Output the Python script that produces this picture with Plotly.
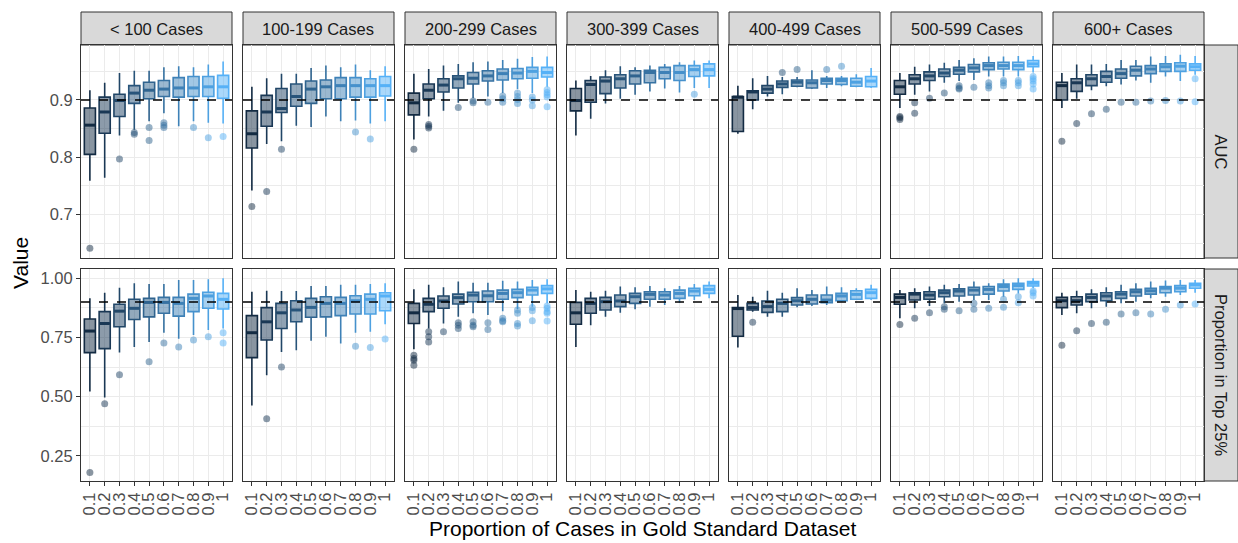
import plotly.graph_objects as go

# ---------------- data ----------------
PROPS = ["0.1", "0.2", "0.3", "0.4", "0.5", "0.6", "0.7", "0.8", "0.9", "1"]
PANELS = ["< 100 Cases", "100-199 Cases", "200-299 Cases", "300-399 Cases",
          "400-499 Cases", "500-599 Cases", "600+ Cases"]
METRICS = ["AUC", "Proportion in Top 25%"]

# AUC
AUC_LOWER = [
    [0.759, 0.764, 0.838, 0.848, 0.863, 0.877, 0.854, 0.863, 0.860, 0.859],
    [0.742, 0.823, 0.828, 0.855, 0.853, 0.871, 0.863, 0.864, 0.859, 0.863],
    [0.831, 0.871, 0.881, 0.895, 0.903, 0.906, 0.912, 0.919, 0.912, 0.923],
    [0.838, 0.867, 0.894, 0.902, 0.909, 0.915, 0.920, 0.913, 0.921, 0.921],
    [0.841, 0.884, 0.906, 0.910, 0.922, 0.919, 0.921, 0.924, 0.922, 0.921],
    [0.886, 0.909, 0.915, 0.930, 0.933, 0.935, 0.941, 0.941, 0.941, 0.948],
    [0.886, 0.902, 0.917, 0.924, 0.927, 0.934, 0.930, 0.941, 0.933, 0.944],
]
AUC_Q1 = [
    [0.805, 0.842, 0.871, 0.894, 0.902, 0.906, 0.905, 0.906, 0.906, 0.903],
    [0.816, 0.854, 0.878, 0.889, 0.894, 0.902, 0.902, 0.905, 0.905, 0.907],
    [0.874, 0.902, 0.914, 0.921, 0.928, 0.933, 0.935, 0.937, 0.938, 0.940],
    [0.881, 0.896, 0.911, 0.921, 0.928, 0.930, 0.937, 0.934, 0.941, 0.942],
    [0.845, 0.900, 0.912, 0.922, 0.924, 0.921, 0.928, 0.927, 0.924, 0.923],
    [0.910, 0.928, 0.934, 0.941, 0.945, 0.949, 0.953, 0.954, 0.953, 0.958],
    [0.900, 0.915, 0.925, 0.931, 0.938, 0.942, 0.946, 0.950, 0.950, 0.952],
]
AUC_MEDIAN = [
    [0.856, 0.879, 0.899, 0.912, 0.917, 0.919, 0.921, 0.921, 0.923, 0.923],
    [0.841, 0.879, 0.885, 0.906, 0.919, 0.923, 0.925, 0.925, 0.925, 0.925],
    [0.895, 0.917, 0.926, 0.937, 0.938, 0.942, 0.946, 0.947, 0.950, 0.948],
    [0.899, 0.927, 0.933, 0.937, 0.942, 0.948, 0.948, 0.948, 0.953, 0.953],
    [0.905, 0.914, 0.919, 0.928, 0.931, 0.930, 0.934, 0.934, 0.931, 0.933],
    [0.923, 0.937, 0.942, 0.947, 0.952, 0.956, 0.960, 0.960, 0.960, 0.963],
    [0.925, 0.930, 0.937, 0.941, 0.946, 0.952, 0.954, 0.958, 0.959, 0.958],
]
AUC_Q3 = [
    [0.886, 0.905, 0.910, 0.925, 0.931, 0.934, 0.939, 0.941, 0.941, 0.943],
    [0.881, 0.908, 0.920, 0.928, 0.933, 0.935, 0.939, 0.939, 0.937, 0.941],
    [0.912, 0.928, 0.937, 0.942, 0.948, 0.951, 0.954, 0.955, 0.957, 0.957],
    [0.920, 0.934, 0.940, 0.944, 0.951, 0.952, 0.957, 0.960, 0.960, 0.963],
    [0.906, 0.916, 0.925, 0.933, 0.935, 0.935, 0.938, 0.938, 0.938, 0.941],
    [0.934, 0.944, 0.949, 0.954, 0.957, 0.962, 0.965, 0.966, 0.966, 0.969],
    [0.931, 0.937, 0.944, 0.950, 0.954, 0.959, 0.960, 0.963, 0.965, 0.963],
]
AUC_UPPER = [
    [0.917, 0.930, 0.947, 0.951, 0.951, 0.957, 0.959, 0.957, 0.962, 0.967],
    [0.923, 0.938, 0.946, 0.946, 0.956, 0.960, 0.957, 0.962, 0.952, 0.959],
    [0.946, 0.954, 0.960, 0.963, 0.966, 0.967, 0.970, 0.972, 0.975, 0.976],
    [0.934, 0.942, 0.952, 0.959, 0.957, 0.960, 0.963, 0.966, 0.969, 0.969],
    [0.925, 0.938, 0.942, 0.940, 0.940, 0.952, 0.942, 0.942, 0.945, 0.956],
    [0.947, 0.958, 0.962, 0.965, 0.970, 0.973, 0.976, 0.976, 0.977, 0.977],
    [0.947, 0.962, 0.962, 0.963, 0.970, 0.970, 0.976, 0.977, 0.979, 0.977],
]
AUC_OUTLIERS = [
    [[0.641], [], [0.797], [0.843, 0.840], [0.852, 0.829], [0.860, 0.856, 0.852], [], [0.852], [0.834], [0.836]],
    [[0.714], [0.740], [0.814], [], [], [], [], [0.844], [0.832], []],
    [[0.814], [0.857, 0.854, 0.851], [], [0.887], [0.898, 0.895], [0.896], [0.907, 0.902, 0.896],
     [0.912, 0.906, 0.901, 0.894], [0.905, 0.900, 0.890], [0.918, 0.913, 0.909, 0.905, 0.888]],
    [[], [], [], [], [], [], [], [], [0.910], []],
    [[], [], [], [0.948], [0.953], [], [0.953], [0.959], [], []],
    [[0.871, 0.869, 0.866], [0.895, 0.877], [0.903], [0.912], [0.925, 0.921, 0.919], [0.922],
     [0.930, 0.925, 0.921], [0.934, 0.930, 0.925], [0.934, 0.930, 0.925], [0.941, 0.937, 0.933, 0.928, 0.919]],
    [[0.828], [0.859], [0.876], [0.884], [0.896], [0.896], [0.898], [0.899], [0.898], [0.937, 0.897]],
]

# Proportion in Top 25%
TOP_LOWER = [
    [0.522, 0.496, 0.686, 0.710, 0.731, 0.770, 0.745, 0.760, 0.781, 0.788],
    [0.463, 0.590, 0.689, 0.696, 0.736, 0.753, 0.725, 0.770, 0.774, 0.806],
    [0.700, 0.788, 0.809, 0.837, 0.852, 0.845, 0.861, 0.869, 0.880, 0.894],
    [0.710, 0.802, 0.837, 0.854, 0.869, 0.880, 0.887, 0.897, 0.908, 0.915],
    [0.708, 0.859, 0.837, 0.837, 0.877, 0.883, 0.887, 0.901, 0.908, 0.908],
    [0.831, 0.873, 0.883, 0.894, 0.901, 0.908, 0.908, 0.922, 0.936, 0.958],
    [0.845, 0.852, 0.873, 0.880, 0.894, 0.901, 0.915, 0.922, 0.929, 0.939],
]
TOP_Q1 = [
    [0.686, 0.703, 0.795, 0.826, 0.837, 0.852, 0.840, 0.859, 0.873, 0.870],
    [0.665, 0.739, 0.788, 0.816, 0.835, 0.837, 0.842, 0.849, 0.849, 0.863],
    [0.809, 0.859, 0.873, 0.891, 0.901, 0.901, 0.911, 0.918, 0.929, 0.936],
    [0.806, 0.852, 0.866, 0.880, 0.894, 0.911, 0.911, 0.915, 0.926, 0.936],
    [0.755, 0.866, 0.856, 0.859, 0.887, 0.891, 0.897, 0.905, 0.911, 0.915],
    [0.890, 0.908, 0.911, 0.922, 0.925, 0.929, 0.933, 0.946, 0.953, 0.967],
    [0.876, 0.887, 0.901, 0.905, 0.915, 0.925, 0.933, 0.939, 0.943, 0.958],
]
TOP_MEDIAN = [
    [0.777, 0.809, 0.861, 0.873, 0.898, 0.898, 0.894, 0.915, 0.925, 0.911],
    [0.770, 0.816, 0.854, 0.866, 0.877, 0.894, 0.894, 0.905, 0.911, 0.925],
    [0.854, 0.890, 0.904, 0.918, 0.929, 0.926, 0.936, 0.939, 0.950, 0.955],
    [0.854, 0.894, 0.901, 0.904, 0.922, 0.932, 0.929, 0.936, 0.946, 0.953],
    [0.872, 0.876, 0.880, 0.894, 0.905, 0.911, 0.908, 0.925, 0.932, 0.939],
    [0.919, 0.933, 0.929, 0.939, 0.946, 0.950, 0.953, 0.965, 0.969, 0.979],
    [0.905, 0.905, 0.919, 0.925, 0.933, 0.943, 0.947, 0.958, 0.958, 0.972],
]
TOP_Q3 = [
    [0.828, 0.859, 0.890, 0.911, 0.915, 0.919, 0.919, 0.933, 0.941, 0.936],
    [0.842, 0.876, 0.894, 0.905, 0.915, 0.922, 0.919, 0.926, 0.933, 0.939],
    [0.894, 0.915, 0.925, 0.933, 0.941, 0.946, 0.950, 0.953, 0.962, 0.969],
    [0.898, 0.915, 0.919, 0.929, 0.936, 0.943, 0.943, 0.950, 0.958, 0.969],
    [0.876, 0.894, 0.904, 0.911, 0.918, 0.929, 0.929, 0.936, 0.947, 0.953],
    [0.933, 0.939, 0.943, 0.950, 0.955, 0.962, 0.965, 0.975, 0.979, 0.986],
    [0.919, 0.922, 0.933, 0.939, 0.943, 0.953, 0.958, 0.965, 0.969, 0.979],
]
TOP_UPPER = [
    [0.915, 0.939, 0.960, 0.979, 0.976, 0.976, 0.993, 0.993, 0.996, 1.000],
    [0.943, 0.947, 0.946, 0.946, 0.967, 0.967, 0.972, 0.972, 0.976, 0.979],
    [0.953, 0.972, 0.962, 0.986, 0.981, 0.981, 0.989, 0.986, 0.993, 0.996],
    [0.950, 0.943, 0.947, 0.965, 0.962, 0.967, 0.958, 0.967, 0.976, 0.986],
    [0.929, 0.922, 0.947, 0.939, 0.958, 0.950, 0.965, 0.962, 0.958, 0.972],
    [0.950, 0.958, 0.965, 0.972, 0.976, 0.986, 0.979, 0.996, 1.000, 1.000],
    [0.939, 0.947, 0.953, 0.962, 0.972, 0.979, 0.986, 0.990, 0.993, 0.993],
]
TOP_OUTLIERS = [
    [[0.180], [0.470], [0.593], [], [0.647], [0.727], [0.710], [0.739], [0.753], [0.770, 0.727]],
    [[], [0.407], [0.625], [], [], [], [], [0.713], [0.708], [0.743]],
    [[0.675, 0.661, 0.654, 0.633], [0.774, 0.753, 0.731], [0.774], [0.812, 0.802, 0.788],
     [0.816, 0.802, 0.795], [0.812, 0.784], [0.831, 0.820, 0.816], [0.866, 0.852, 0.809, 0.798],
     [0.876, 0.863, 0.820], [0.883, 0.873, 0.859, 0.852, 0.819]],
    [[], [], [], [], [], [], [], [], [], []],
    [[], [0.814], [], [], [], [], [], [], [], []],
    [[0.805], [0.831], [0.854], [0.880, 0.869], [0.863], [0.894, 0.869], [0.873], [0.911, 0.877],
     [0.922, 0.897], [0.946, 0.939, 0.925]],
    [[0.717], [0.778], [0.809], [0.814], [0.849], [0.854], [0.849], [0.869], [0.887], [0.891]],
]

THRESHOLD = 0.9
Y_RANGES = [[0.624, 0.996], [0.144, 1.039]]
Y_TICKS = [[0.7, 0.8, 0.9], [0.25, 0.5, 0.75, 1.0]]
Y_TICKTEXT = [["0.7", "0.8", "0.9"], ["0.25", "0.50", "0.75", "1.00"]]
Y_MINOR = [[0.65, 0.75, 0.85, 0.95], [0.125, 0.375, 0.625, 0.875]]

# ---------------- colours (ggplot default gradient, Lab interpolation) ----------------
LOW, HIGH = (0x13, 0x2B, 0x43), (0x56, 0xB1, 0xF7)


def _to_lin(c):
    c = c / 255
    return c / 12.92 if c <= 0.04045 else ((c + 0.055) / 1.055) ** 2.4


def _from_lin(c):
    v = 12.92 * c if c <= 0.0031308 else 1.055 * max(c, 0) ** (1 / 2.4) - 0.055
    return int(round(max(0.0, min(1.0, v)) * 255))


WHITE = (0.95047, 1.0, 1.08883)


def _f(t):
    d = 6 / 29
    return t ** (1 / 3) if t > d ** 3 else t / (3 * d * d) + 4 / 29


def _finv(t):
    d = 6 / 29
    return t ** 3 if t > d else 3 * d * d * (t - 4 / 29)


def rgb_to_lab(rgb):
    r, g, b = (_to_lin(v) for v in rgb)
    X = 0.4124 * r + 0.3576 * g + 0.1805 * b
    Y = 0.2126 * r + 0.7152 * g + 0.0722 * b
    Z = 0.0193 * r + 0.1192 * g + 0.9505 * b
    fx, fy, fz = _f(X / WHITE[0]), _f(Y / WHITE[1]), _f(Z / WHITE[2])
    return (116 * fy - 16, 500 * (fx - fy), 200 * (fy - fz))


def lab_to_rgb(lab):
    L, a, b = lab
    fy = (L + 16) / 116
    fx = fy + a / 500
    fz = fy - b / 200
    X, Y, Z = WHITE[0] * _finv(fx), WHITE[1] * _finv(fy), WHITE[2] * _finv(fz)
    r = 3.2406 * X - 1.5372 * Y - 0.4986 * Z
    g = -0.9689 * X + 1.8758 * Y + 0.0415 * Z
    bb = 0.0557 * X - 0.2040 * Y + 1.0570 * Z
    return (_from_lin(r), _from_lin(g), _from_lin(bb))


la, lb = rgb_to_lab(LOW), rgb_to_lab(HIGH)
vals = [float(p) for p in PROPS]
COLORS = []
for v in vals:
    t = (v - vals[0]) / (vals[-1] - vals[0])
    COLORS.append(lab_to_rgb(tuple(la[k] + t * (lb[k] - la[k]) for k in range(3))))


def rgba(c, a):
    return f"rgba({c[0]},{c[1]},{c[2]},{a})"


# ---------------- layout geometry ----------------
W, H = 1238, 543
COL_LEFT, COL_W, COL_STEP = 81, 151, 162
ROW_TOP, ROW_BOT = [45, 269], [258, 481]
STRIP_TOP = 12
RIGHT_STRIP = (1204, 1238)
FONT = "Liberation Sans, Arial, sans-serif"
GRID = "#EBEBEB"
BORDER = "#333333"

fig = go.Figure()
layout = {}
shapes = []
annotations = []

stats = [
    (AUC_LOWER, AUC_Q1, AUC_MEDIAN, AUC_Q3, AUC_UPPER, AUC_OUTLIERS),
    (TOP_LOWER, TOP_Q1, TOP_MEDIAN, TOP_Q3, TOP_UPPER, TOP_OUTLIERS),
]

BOX_W = 0.75
for r, (lo, q1, md, q3, hi, out) in enumerate(stats):
    for c in range(len(PANELS)):
        k = r * len(PANELS) + c + 1
        xa = "x" if k == 1 else f"x{k}"
        ya = "y" if k == 1 else f"y{k}"
        for i in range(len(PROPS)):
            col = COLORS[i]
            fig.add_trace(go.Box(
                x=[i + 1], q1=[q1[c][i]], median=[md[c][i]], q3=[q3[c][i]],
                lowerfence=[lo[c][i]], upperfence=[hi[c][i]],
                width=BOX_W, whiskerwidth=0, boxpoints=False,
                line=dict(color=f"rgb{col}", width=1.6),
                fillcolor=rgba(col, 0.5), xaxis=xa, yaxis=ya,
                showlegend=False, hoverinfo="skip"))
            fig.add_trace(go.Scatter(
                x=[i + 1 - BOX_W / 2 + 0.03, i + 1 + BOX_W / 2 - 0.03], y=[md[c][i], md[c][i]],
                mode="lines", line=dict(color=f"rgb{col}", width=3),
                xaxis=xa, yaxis=ya, showlegend=False, hoverinfo="skip"))
        ox, oy, oc = [], [], []
        for i in range(len(PROPS)):
            for v in out[c][i]:
                ox.append(i + 1)
                oy.append(v)
                oc.append(f"rgb{COLORS[i]}")
        if ox:
            fig.add_trace(go.Scatter(
                x=ox, y=oy, mode="markers",
                marker=dict(color=oc, size=7, opacity=0.5, line=dict(width=0)),
                xaxis=xa, yaxis=ya, showlegend=False, hoverinfo="skip"))

        x0 = (COL_LEFT + COL_STEP * c) / W
        x1 = (COL_LEFT + COL_STEP * c + COL_W) / W
        y0 = 1 - ROW_BOT[r] / H
        y1 = 1 - ROW_TOP[r] / H
        xkey = "xaxis" if k == 1 else f"xaxis{k}"
        ykey = "yaxis" if k == 1 else f"yaxis{k}"
        layout[xkey] = dict(
            domain=[x0, x1], anchor=ya, range=[0.4, len(PROPS) + 0.6],
            tickmode="array", tickvals=list(range(1, len(PROPS) + 1)), ticktext=PROPS,
            showticklabels=(r == 1), ticks="outside" if r == 1 else "", ticklen=4,
            tickcolor=BORDER, tickwidth=1, tickangle=-90,
            tickfont=dict(family=FONT, size=16.5, color="#4D4D4D"),
            showgrid=True, gridcolor=GRID, gridwidth=1.4, zeroline=False,
            showline=True, mirror=True, linecolor=BORDER, linewidth=1)
        layout[ykey] = dict(
            domain=[y0, y1], anchor=xa, range=Y_RANGES[r],
            tickmode="array", tickvals=Y_TICKS[r], ticktext=Y_TICKTEXT[r],
            showticklabels=(c == 0), ticks="outside" if c == 0 else "", ticklen=4,
            tickcolor=BORDER, tickwidth=1,
            tickfont=dict(family=FONT, size=16.5, color="#4D4D4D"),
            showgrid=True, gridcolor=GRID, gridwidth=1.4, zeroline=False,
            showline=True, mirror=True, linecolor=BORDER, linewidth=1,
            minor=dict(tickvals=Y_MINOR[r], showgrid=True, gridcolor=GRID, gridwidth=0.7, ticks=""))
        shapes.append(dict(type="line", xref=f"{xa} domain", yref=ya, x0=0, x1=1,
                           y0=THRESHOLD, y1=THRESHOLD, layer="above",
                           line=dict(color="black", width=1.5, dash="dash")))

# column strips
for c, name in enumerate(PANELS):
    x0 = (COL_LEFT + COL_STEP * c) / W
    x1 = (COL_LEFT + COL_STEP * c + COL_W) / W
    shapes.append(dict(type="rect", xref="paper", yref="paper", x0=x0, x1=x1,
                       y0=1 - ROW_TOP[0] / H, y1=1 - STRIP_TOP / H,
                       fillcolor="#D9D9D9", line=dict(color=BORDER, width=1), layer="below"))
    annotations.append(dict(text=name, xref="paper", yref="paper", x=(x0 + x1) / 2,
                            y=1 - (STRIP_TOP + ROW_TOP[0]) / 2 / H, showarrow=False,
                            xanchor="center", yanchor="middle",
                            font=dict(family=FONT, size=16.5, color="#1A1A1A")))
# row strips
for r, name in enumerate(METRICS):
    x0, x1 = RIGHT_STRIP[0] / W, RIGHT_STRIP[1] / W
    shapes.append(dict(type="rect", xref="paper", yref="paper", x0=x0, x1=x1,
                       y0=1 - ROW_BOT[r] / H, y1=1 - ROW_TOP[r] / H,
                       fillcolor="#D9D9D9", line=dict(color=BORDER, width=1), layer="below"))
    annotations.append(dict(text=name, xref="paper", yref="paper", x=(x0 + x1) / 2,
                            y=1 - (ROW_TOP[r] + ROW_BOT[r]) / 2 / H, showarrow=False,
                            textangle=90, xanchor="center", yanchor="middle",
                            font=dict(family=FONT, size=16.5, color="#1A1A1A")))

# axis titles
annotations.append(dict(text="Value", xref="paper", yref="paper", x=20 / W,
                        y=1 - (ROW_TOP[0] + ROW_BOT[1]) / 2 / H, showarrow=False,
                        textangle=-90, xanchor="center", yanchor="middle",
                        font=dict(family=FONT, size=21, color="black")))
annotations.append(dict(text="Proportion of Cases in Gold Standard Dataset", xref="paper", yref="paper",
                        x=(COL_LEFT + COL_LEFT + COL_STEP * 6 + COL_W) / 2 / W, y=1 - 542 / H,
                        showarrow=False, xanchor="center", yanchor="bottom",
                        font=dict(family=FONT, size=21, color="black")))

fig.update_layout(
    width=W, height=H, margin=dict(l=0, r=0, t=0, b=0),
    paper_bgcolor="white", plot_bgcolor="white", showlegend=False,
    boxmode="overlay", shapes=shapes, annotations=annotations, **layout)

fig.write_html("out.html")
